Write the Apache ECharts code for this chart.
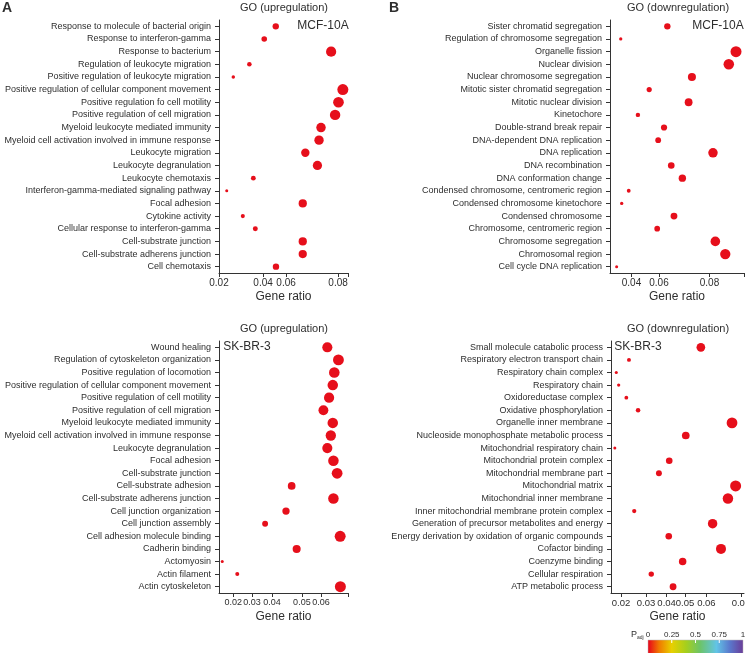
<!DOCTYPE html>
<html>
<head>
<meta charset="utf-8">
<script src="https://cdn.jsdelivr.net/npm/echarts@6.0.0/dist/echarts.min.js"></script>
<style>
  html, body { margin: 0; padding: 0; background: #fff; }
  #chart { width: 745px; height: 653px; }
</style>
</head>
<body>
<div id="chart"></div>
<script>
/* A top: MCF-10A, GO upregulation */
var mcfUpTerms = [
  "Response to molecule of bacterial origin", "Response to interferon-gamma", "Response to bacterium",
  "Regulation of leukocyte migration", "Positive regulation of leukocyte migration",
  "Positive regulation of cellular component movement", "Positive regulation fo cell motility",
  "Positive regulation of cell migration", "Myeloid leukocyte mediated immunity",
  "Myeloid cell activation involved in immune response", "Leukocyte migration", "Leukocyte degranulation",
  "Leukocyte chemotaxis", "Interferon-gamma-mediated signaling pathway", "Focal adhesion",
  "Cytokine activity", "Cellular response to interferon-gamma", "Cell-substrate junction",
  "Cell-substrate adherens junction", "Cell chemotaxis"
];
var mcfUpRatio = [0.0486, 0.0428, 0.0765, 0.0353, 0.0272, 0.0824, 0.0802, 0.0785, 0.0714, 0.0704,
  0.0635, 0.0696, 0.0373, 0.0239, 0.0622, 0.0320, 0.0383, 0.0622, 0.0622, 0.0487];
var mcfUpTickAt = [0.02, 0.0422, 0.0538, 0.08];
var mcfUpTickText = ["0.02", "0.04", "0.06", "0.08"];

/* B top: MCF-10A, GO downregulation */
var mcfDownTerms = [
  "Sister chromatid segregation", "Regulation of chromosome segregation", "Organelle fission",
  "Nuclear division", "Nuclear chromosome segregation", "Mitotic sister chromatid segregation",
  "Mitotic nuclear division", "Kinetochore", "Double-strand break repair", "DNA-dependent DNA replication",
  "DNA replication", "DNA recombination", "DNA conformation change",
  "Condensed chromosome, centromeric region", "Condensed chromosome kinetochore", "Condensed chromosome",
  "Chromosome, centromeric region", "Chromosome segregation", "Chromosomal region", "Cell cycle DNA replication"
];
var mcfDownRatio = [0.0584, 0.0345, 0.0936, 0.0899, 0.0710, 0.0491, 0.0693, 0.0433, 0.0567, 0.0537,
  0.0818, 0.0604, 0.0661, 0.0386, 0.0350, 0.0618, 0.0532, 0.0830, 0.0881, 0.0324];
var mcfDownTickAt = [0.04, 0.0541, 0.08];
var mcfDownTickText = ["0.04", "0.06", "0.08"];

/* A bottom: SK-BR-3, GO upregulation */
var skUpTerms = [
  "Wound healing", "Regulation of cytoskeleton organization", "Positive regulation of locomotion",
  "Positive regulation of cellular component movement", "Positive regulation of cell motility",
  "Positive regulation of cell migration", "Myeloid leukocyte mediated immunity",
  "Myeloid cell activation involved in immune response", "Leukocyte degranulation", "Focal adhesion",
  "Cell-substrate junction", "Cell-substrate adhesion", "Cell-substrate adherens junction",
  "Cell junction organization", "Cell junction assembly", "Cell adhesion molecule binding",
  "Cadherin binding", "Actomyosin", "Actin filament", "Actin cytoskeleton"
];
var skUpRatio = [0.0629, 0.0680, 0.0661, 0.0654, 0.0637, 0.0611, 0.0654, 0.0645, 0.0629, 0.0657,
  0.0674, 0.0465, 0.0657, 0.0439, 0.0343, 0.0688, 0.0488, 0.0146, 0.0215, 0.0689];
var skUpTickAt = [0.0197, 0.0283, 0.0375, 0.0512, 0.06];
var skUpTickText = ["0.02", "0.03", "0.04", "0.05", "0.06"];

/* B bottom: SK-BR-3, GO downregulation */
var skDownTerms = [
  "Small molecule catabolic process", "Respiratory electron transport chain", "Respiratory chain complex",
  "Respiratory chain", "Oxidoreductase complex", "Oxidative phosphorylation", "Organelle inner membrane",
  "Nucleoside monophosphate metabolic process", "Mitochondrial respiratory chain",
  "Mitochondrial protein complex", "Mitochondrial membrane part", "Mitochondrial matrix",
  "Mitochondrial inner membrane", "Inner mitochondrial membrane protein complex",
  "Generation of precursor metabolites and energy", "Energy derivation by oxidation of organic compounds",
  "Cofactor binding", "Coenzyme binding", "Cellular respiration", "ATP metabolic process"
];
var skDownRatio = [0.0533, 0.0233, 0.0180, 0.0190, 0.0222, 0.0271, 0.0663, 0.0470, 0.0174, 0.0401,
  0.0358, 0.0678, 0.0646, 0.0255, 0.0582, 0.0399, 0.0617, 0.0457, 0.0326, 0.0417];
var skDownTickAt = [0.02, 0.0304, 0.0390, 0.0467, 0.0556, 0.07];
var skDownTickText = ["0.02", "0.03", "0.04", "0.05", "0.06", "0.07"];

/* colour key */
var padjTicks = ["0", "0.25", "0.5", "0.75", "1"];

var txt = "#2e2e2e";
var dotColor = "#e60f1b";
var font = "'Liberation Sans', Arial, sans-serif";

var grids = [];
var xAxes = [];
var yAxes = [];
var series = [];

function addPanel(box, terms, ratio, min, max, tickAt, tickText, endTick, tickFont) {
  var i = grids.length;
  box.outerBoundsMode = "none";
  box.containLabel = false;
  grids.push(box);
  var lo = Math.min.apply(null, ratio);
  var hi = Math.max.apply(null, ratio);
  xAxes.push({
    gridIndex: i, type: "value", min: min, max: max,
    axisLine: { show: true, lineStyle: { color: "#333", width: 1 } },
    axisTick: { show: true, length: 4, lineStyle: { color: "#333" },
      customValues: endTick ? tickAt.concat([max]) : tickAt },
    axisLabel: {
      customValues: tickAt, fontSize: tickFont, color: txt, fontFamily: font, margin: 5,
      hideOverlap: false, showMinLabel: true, showMaxLabel: true,
      formatter: function (v) {
        var best = 0;
        tickAt.forEach(function (t, k) {
          if (Math.abs(t - v) < Math.abs(tickAt[best] - v)) best = k;
        });
        return tickText[best];
      }
    },
    splitLine: { show: false },
    name: "Gene ratio", nameLocation: "middle", nameGap: 18,
    nameTextStyle: { fontSize: 12, color: txt, fontFamily: font }
  });
  yAxes.push({
    gridIndex: i, type: "category", data: terms, inverse: true,
    axisLine: { show: true, lineStyle: { color: "#333", width: 1 } },
    axisTick: { show: true, alignWithLabel: true, length: 4, lineStyle: { color: "#333" } },
    axisLabel: { fontSize: 9, color: txt, fontFamily: font, margin: 8, interval: 0 },
    splitLine: { show: false }
  });
  series.push({
    type: "scatter", xAxisIndex: i, yAxisIndex: i,
    data: ratio.map(function (v, j) { return [v, terms[j]]; }),
    symbolSize: function (val) { return 3 + (val[0] - lo) / (hi - lo) * 8; },
    itemStyle: { color: dotColor, opacity: 1 },
    silent: true
  });
}

addPanel({ left: 219, top: 20, width: 129, height: 253 }, mcfUpTerms, mcfUpRatio, 0.02, 0.0850, mcfUpTickAt, mcfUpTickText, true, 10);
addPanel({ left: 610, top: 20, width: 134, height: 253 }, mcfDownTerms, mcfDownRatio, 0.0290, 0.0977, mcfDownTickAt, mcfDownTickText, true, 10);
addPanel({ left: 219, top: 341, width: 129, height: 252 }, skUpTerms, skUpRatio, 0.0131, 0.0724, skUpTickAt, skUpTickText, true, 9);
addPanel({ left: 611, top: 341, width: 133, height: 252 }, skDownTerms, skDownRatio, 0.0158, 0.0713, skDownTickAt, skDownTickText, false, 9.5);

function label(x, y, text, size, weight) {
  return {
    type: "text", x: x, y: y, silent: true,
    style: { text: text, fontSize: size, fontWeight: weight || "normal", fontFamily: font, fill: txt,
      align: "center", verticalAlign: "middle", textAlign: "center", textVerticalAlign: "middle" }
  };
}

var barX = 648, barY = 640, barW = 95, barH = 14;
var graphics = [
  label(7, 8, "A", 14, "bold"),
  label(394, 8, "B", 14, "bold"),
  label(284, 8, "GO (upregulation)", 11),
  label(678, 8, "GO (downregulation)", 11),
  label(284, 329, "GO (upregulation)", 11),
  label(678, 329, "GO (downregulation)", 11),
  label(323, 26, "MCF-10A", 12),
  label(718, 26, "MCF-10A", 12),
  label(247, 347, "SK-BR-3", 12),
  label(638, 347, "SK-BR-3", 12),
  {
    type: "rect", silent: true,
    shape: { x: barX, y: barY, width: barW, height: barH },
    style: {
      fill: new echarts.graphic.LinearGradient(0, 0, 1, 0, [
        { offset: 0, color: "#e8001c" },
        { offset: 0.12, color: "#f07a00" },
        { offset: 0.25, color: "#e8d000" },
        { offset: 0.4, color: "#a6cf1c" },
        { offset: 0.55, color: "#6cc46a" },
        { offset: 0.72, color: "#62c4e6" },
        { offset: 0.86, color: "#5a78cc" },
        { offset: 1, color: "#6a3c98" }
      ]),
      stroke: "#bbb", lineWidth: 0.5
    }
  },
  {
    type: "text", x: 631, y: 635, silent: true,
    style: {
      text: "P{s|adj}", fontSize: 9, fontFamily: font, fill: txt,
      align: "left", verticalAlign: "middle", textAlign: "left", textVerticalAlign: "middle",
      rich: { s: { fontSize: 5, fontFamily: font, fill: txt, padding: [5, 0, 0, 0] } }
    }
  }
];
padjTicks.forEach(function (t, k) {
  var px = barX + k * barW / (padjTicks.length - 1);
  graphics.push(label(px, 635, t, 8));
  if (k > 0 && k < padjTicks.length - 1) {
    graphics.push({
      type: "line", silent: true,
      shape: { x1: px, y1: barY, x2: px, y2: barY + 3 },
      style: { stroke: "#fff", lineWidth: 1 }
    });
  }
});

var myChart = echarts.init(document.getElementById("chart"), null, { renderer: "canvas" });
myChart.setOption({
  animation: false,
  backgroundColor: "#fff",
  grid: grids,
  xAxis: xAxes,
  yAxis: yAxes,
  series: series,
  graphic: graphics
});
</script>
</body>
</html>
